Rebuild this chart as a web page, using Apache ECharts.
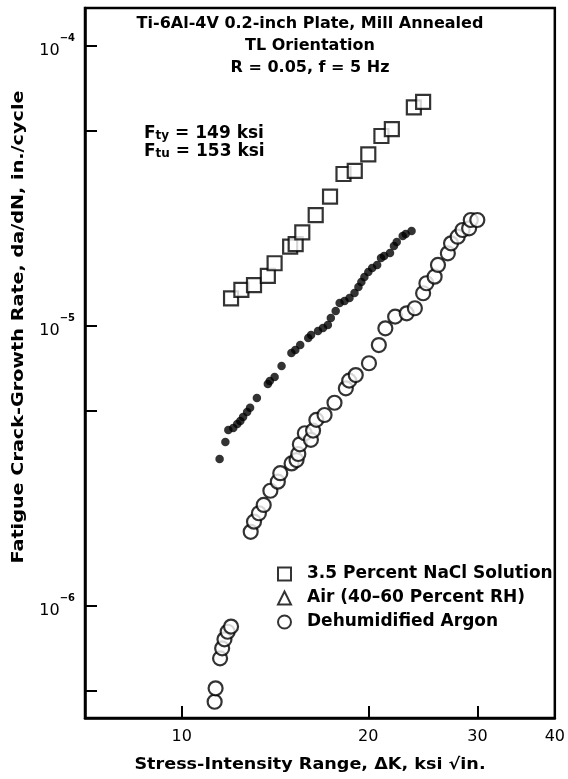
<!DOCTYPE html>
<html><head><meta charset="utf-8">
<script src="https://cdn.jsdelivr.net/npm/echarts@6/dist/echarts.min.js"></script>
<style>html,body{margin:0;padding:0;background:#fff}#c{width:568px;height:779px}</style>
</head><body><div id="c"></div>
<script>
// ---- data ----
const seriesNames = ['3.5 Percent NaCl Solution', 'Air (40\u201360 Percent RH)', 'Dehumidified Argon'];

const naclK    = [12.01, 12.48, 13.08, 13.77, 14.12, 14.96, 15.27, 15.65, 16.45, 17.35, 18.24, 19.02, 20.0, 21.0, 21.83, 23.69, 24.52];
const naclRate = [1.256e-5, 1.345e-5, 1.40e-5, 1.51e-5, 1.675e-5, 1.92e-5, 1.96e-5, 2.16e-5, 2.49e-5, 2.90e-5, 3.49e-5, 3.58e-5, 4.10e-5, 4.77e-5, 5.05e-5, 6.04e-5, 6.32e-5];

const airK    = [11.51, 11.76, 11.89, 12.11, 12.29, 12.43, 12.56, 12.75, 12.89, 13.22, 13.77, 13.87, 14.12, 14.49, 15.03, 15.25, 15.53, 16.00, 16.17, 16.59, 16.90, 17.21, 17.40, 17.72, 17.98, 18.31, 18.65, 19.00, 19.28, 19.49, 19.71, 20.0, 20.29, 20.67, 20.97, 21.21, 21.68, 22.00, 22.23, 22.73, 22.98, 23.49];
const airRate = [3.35e-6, 3.85e-6, 4.25e-6, 4.32e-6, 4.47e-6, 4.58e-6, 4.73e-6, 4.93e-6, 5.10e-6, 5.53e-6, 6.21e-6, 6.36e-6, 6.57e-6, 7.20e-6, 8.01e-6, 8.21e-6, 8.55e-6, 9.06e-6, 9.29e-6, 9.60e-6, 9.84e-6, 1.008e-5, 1.068e-5, 1.131e-5, 1.208e-5, 1.229e-5, 1.259e-5, 1.312e-5, 1.378e-5, 1.436e-5, 1.496e-5, 1.559e-5, 1.611e-5, 1.652e-5, 1.750e-5, 1.778e-5, 1.823e-5, 1.931e-5, 1.995e-5, 2.096e-5, 2.131e-5, 2.184e-5];

const argonK    = [11.30, 11.34, 11.53, 11.62, 11.72, 11.86, 12.01, 12.92, 13.08, 13.32, 13.56, 13.90, 14.29, 14.42, 15.04, 15.32, 15.42, 15.51, 15.80, 16.16, 16.29, 16.49, 17.00, 17.64, 18.40, 18.63, 19.09, 20.05, 20.80, 21.31, 22.10, 23.07, 23.78, 24.52, 24.82, 25.59, 25.91, 26.88, 27.20, 27.88, 28.39, 29.09, 29.27, 29.99];
const argonRate = [4.55e-7, 5.08e-7, 6.50e-7, 7.06e-7, 7.60e-7, 8.09e-7, 8.44e-7, 1.84e-6, 2.0e-6, 2.144e-6, 2.295e-6, 2.58e-6, 2.78e-6, 2.98e-6, 3.23e-6, 3.32e-6, 3.49e-6, 3.78e-6, 4.14e-6, 3.92e-6, 4.23e-6, 4.62e-6, 4.81e-6, 5.32e-6, 5.99e-6, 6.38e-6, 6.68e-6, 7.36e-6, 8.55e-6, 9.81e-6, 1.08e-5, 1.11e-5, 1.157e-5, 1.309e-5, 1.421e-5, 1.50e-5, 1.652e-5, 1.818e-5, 1.974e-5, 2.084e-5, 2.202e-5, 2.233e-5, 2.391e-5, 2.391e-5];

const xTickValues  = [10, 20, 30, 40];
const yTickValues  = [5e-7, 1e-6, 5e-6, 1e-5, 5e-5, 1e-4];
const yLabelValues = [1e-6, 1e-5, 1e-4];
const xRange = [6.98, 40];
const yRange = [3.98e-7, 1.367e-4];

const titleLines = ['Ti-6Al-4V 0.2-inch Plate, Mill Annealed', 'TL Orientation', 'R = 0.05, f = 5 Hz'];
const xAxisTitle = 'Stress-Intensity Range, \u0394K, ksi \u221Ain.';
const yAxisTitle = 'Fatigue Crack-Growth Rate, da/dN, in./cycle';

// ---- chart ----
const zip = (a, b) => a.map((v, i) => [v, b[i]]);
const FONT = 'DejaVu Sans';
const chart = echarts.init(document.getElementById('c'), null, {renderer: 'canvas'});

const option = {
  backgroundColor: '#fff',
  animation: false,
  grid: {left: 85, right: 6, top: 8, bottom: 61, show: true, borderColor: '#000', borderWidth: 2.5, backgroundColor: 'transparent'},
  xAxis: {
    type: 'log', logBase: 10, min: xRange[0], max: xRange[1],
    axisLine: {show: true, lineStyle: {color: '#000', width: 2.5}},
    axisTick: {show: true, inside: true, length: 12, lineStyle: {color: '#000', width: 2}, customValues: xTickValues},
    axisLabel: {show: true, customValues: xTickValues, margin: 11, fontFamily: FONT, fontSize: 16, color: '#000',
      formatter: v => String(Math.round(v))},
    splitLine: {show: false}, minorTick: {show: false}
  },
  yAxis: {
    type: 'log', logBase: 10, min: yRange[0], max: yRange[1],
    axisLine: {show: true, lineStyle: {color: '#000', width: 2.5}},
    axisTick: {show: true, inside: true, length: 12, lineStyle: {color: '#000', width: 2}, customValues: yTickValues},
    axisLabel: {show: true, customValues: yLabelValues, margin: 10,
      formatter: v => '{a|10}{b|\u2212' + (-Math.round(Math.log10(v))) + '}',
      rich: {
        a: {fontFamily: FONT, fontSize: 16, color: '#000', lineHeight: 26, verticalAlign: 'bottom'},
        b: {fontFamily: FONT, fontSize: 10, fontWeight: 'bold', color: '#000', lineHeight: 10, verticalAlign: 'top'}
      }},
    splitLine: {show: false}, minorTick: {show: false}
  },
  legend: {
    orient: 'vertical', left: 272, top: 559, itemGap: 4, itemWidth: 13, itemHeight: 13,
    selectedMode: false,
    textStyle: {fontFamily: FONT, fontWeight: 'bold', fontSize: 17, lineHeight: 20, color: '#000', padding: [0, 0, 0, 11]},
    data: [
      {name: seriesNames[0], icon: 'rect'},
      {name: seriesNames[1], icon: 'triangle', itemStyle: {color: '#fff', borderColor: '#000', borderWidth: 2}},
      {name: seriesNames[2], icon: 'circle'}
    ]
  },
  graphic: [
    {type: 'text', x: 310, y: 24, style: {text: titleLines[0], align: 'center', verticalAlign: 'middle', font: 'bold 16px "DejaVu Sans"', fill: '#000'}},
    {type: 'text', x: 310, y: 46, style: {text: titleLines[1], align: 'center', verticalAlign: 'middle', font: 'bold 16px "DejaVu Sans"', fill: '#000'}},
    {type: 'text', x: 310, y: 68, style: {text: titleLines[2], align: 'center', verticalAlign: 'middle', font: 'bold 16px "DejaVu Sans"', fill: '#000'}},
    {type: 'text', x: 144, y: 124, style: {
      text: '{m|F}{s|ty}{m| = 149 ksi}\n{m|F}{s|tu}{m| = 153 ksi}',
      rich: {
        m: {fontFamily: FONT, fontWeight: 'bold', fontSize: 17, lineHeight: 18, verticalAlign: 'bottom', fill: '#000'},
        s: {fontFamily: FONT, fontWeight: 'bold', fontSize: 12, lineHeight: 9, verticalAlign: 'bottom', fill: '#000'}
      }}},
    {type: 'text', x: 310, y: 765, scaleX: 1.1, style: {text: xAxisTitle, align: 'center', verticalAlign: 'middle', font: 'bold 16px "DejaVu Sans"', fill: '#000'}},
    {type: 'text', x: 19, y: 327, rotation: Math.PI / 2, scaleX: 1.2, style: {text: yAxisTitle, align: 'center', verticalAlign: 'middle', font: 'bold 16px "DejaVu Sans"', fill: '#000'}}
  ],
  series: [
    {name: seriesNames[0], type: 'scatter', data: zip(naclK, naclRate), symbol: 'rect', symbolSize: 14,
      itemStyle: {color: '#fff', borderColor: '#000', borderWidth: 2.2}, z: 3},
    {name: seriesNames[1], type: 'scatter', data: zip(airK, airRate), symbol: 'circle', symbolSize: 8.5,
      itemStyle: {color: '#000'}, z: 4},
    {name: seriesNames[2], type: 'scatter', data: zip(argonK, argonRate), symbol: 'circle', symbolSize: 14,
      itemStyle: {color: '#fff', borderColor: '#000', borderWidth: 2.2}, z: 2}
  ]
};
chart.setOption(option);
</script>
</body></html>
